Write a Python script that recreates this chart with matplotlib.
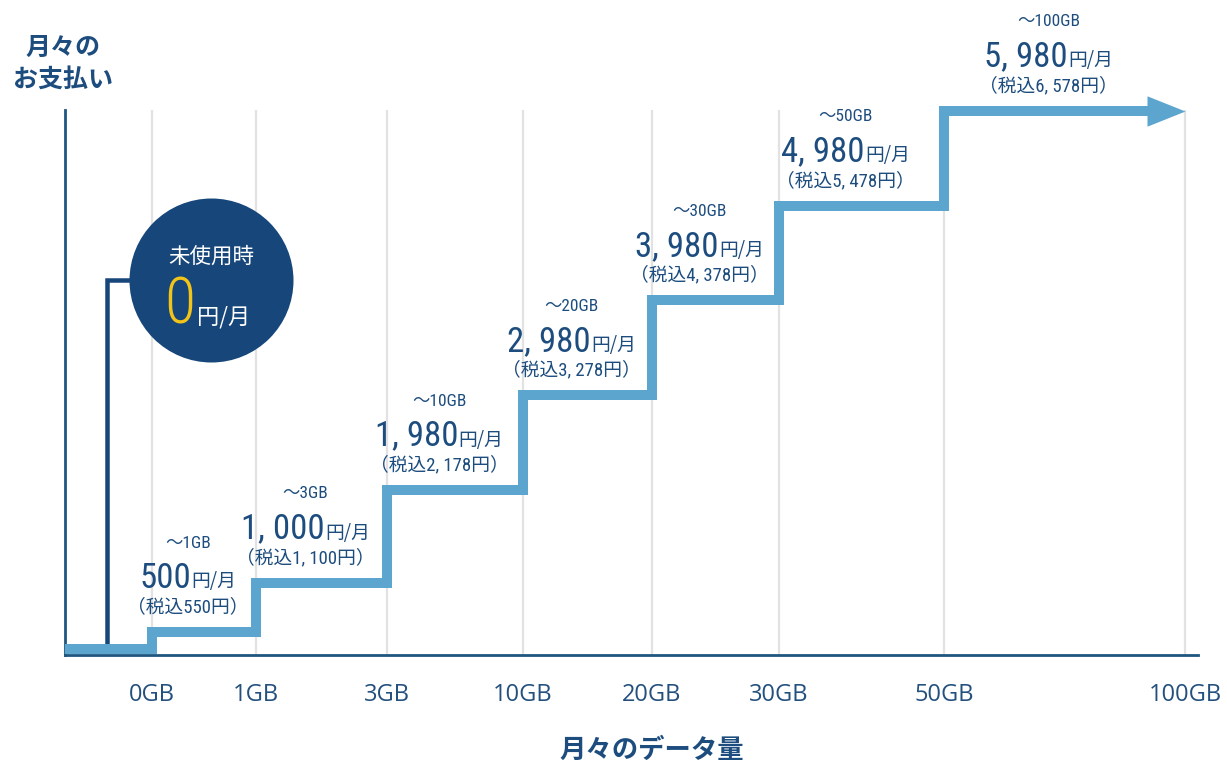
import numpy as np
import matplotlib
matplotlib.use("Agg")
import matplotlib.pyplot as plt
from matplotlib.offsetbox import TextArea, HPacker, AnnotationBbox

# ---------------- data ----------------
tick_labels = ["0GB", "1GB", "3GB", "10GB", "20GB", "30GB", "50GB", "100GB"]
plan_limits = ["～1GB", "～3GB", "～10GB", "～20GB", "～30GB", "～50GB", "～100GB"]
plan_prices = [500, 1000, 1980, 2980, 3980, 4980, 5980]
price_labels = ["500", "1, 000", "1, 980", "2, 980", "3, 980", "4, 980", "5, 980"]
tax_labels = ["（税込550円）", "（税込1, 100円）", "（税込2, 178円）", "（税込3, 278円）",
              "（税込4, 378円）", "（税込5, 478円）", "（税込6, 578円）"]
unused_price = 0
unused_label = "未使用時"
unit_label = "円/月"
y_title = ["月々の", "お支払い"]
x_title = "月々のデータ量"

# ---------------- layout / style ----------------
W, H, DPI = 12.27, 7.64, 100
TICK_POS = [87, 191, 322, 458, 587, 714, 879, 1120]   # visual x positions of the GB ticks
XLIM = (0, 1133)
NAVY = "#16467a"
TEXT = "#1d4d7e"
LIGHT = "#5ca5ce"
SPINE = "#1e5680"
GRID = "#e2e2e2"
NUM_FONT = ["Roboto Condensed", "Liberation Sans Narrow", "Roboto", "Noto Sans CJK JP"]
CJK = ["Noto Sans CJK JP", "DejaVu Sans"]
TICK_FONT = ["Open Sans", "Noto Sans", "DejaVu Sans"]
PX = 72.0 / DPI  # points per pixel

# visual y scale: compressed low range, linear above 1000 yen
_kp = [-100000.0, 0.0, 500.0, 1000.0, 100000.0]
_kv = [-3400.0, 0.0, 17.0, 66.0, 66.0 + 99000 * 0.0948]


def fwd(y):
    return np.interp(y, _kp, _kv)


def inv(v):
    return np.interp(v, _kv, _kp)


fig = plt.figure(figsize=(W, H), dpi=DPI)
ax = fig.add_axes([65 / 1227, 109 / 764, 1133 / 1227, 545 / 764])
ax.set_yscale("function", functions=(fwd, inv))
ax.set_xlim(*XLIM)
ax.set_ylim(inv(-6), inv(539))

for s in ["top", "right"]:
    ax.spines[s].set_visible(False)
for s in ["left", "bottom"]:
    ax.spines[s].set_color(SPINE)
    ax.spines[s].set_linewidth(2.0)
ax.set_yticks([])
ax.yaxis.set_minor_locator(matplotlib.ticker.NullLocator())
ax.set_xticks(TICK_POS)
ax.set_xticklabels(tick_labels, family=TICK_FONT, fontsize=17, color="#24507e")
ax.tick_params(axis="x", length=0, pad=20)
ax.grid(axis="x", color=GRID, lw=1.6, zorder=0)
ax.set_axisbelow(True)

# step line
xs = [XLIM[0]] + TICK_POS[:7] + [TICK_POS[7] - 34]
ys = [unused_price] + plan_prices + [plan_prices[-1]]
ax.plot(xs, ys, drawstyle="steps-post", lw=10 * PX, color=LIGHT,
        solid_joinstyle="miter", solid_capstyle="butt", clip_on=False, zorder=4)
# arrow head (tip at the last tick)
head = [(0, 0), (-1, 0.40), (-1, -0.40), (0, 0)]
ax.plot([TICK_POS[7]], [plan_prices[-1]], marker=head, markersize=2 * 38 * PX,
        color=LIGHT, markeredgewidth=0, clip_on=False, zorder=4)

# unused connector + circle
cx, cy = (211 - 65) / 1133, (655 - 280) / 545
lx = (107 - 65) / 1133
ax.plot([lx, lx, cx], [0.01, cy, cy], transform=ax.transAxes, color=NAVY,
        lw=4.5 * PX, solid_joinstyle="miter", clip_on=False, zorder=3)
ax.plot([cx], [cy], marker="o", markersize=164 * PX, color=NAVY, markeredgewidth=0,
        transform=ax.transAxes, clip_on=False, zorder=5)
ax.text(cx, cy + 23 / 545, unused_label, transform=ax.transAxes, ha="center", va="center",
        family=CJK, fontsize=15.5, color="white", zorder=6)
row0 = HPacker(children=[
    TextArea(f"{unused_price}", textprops=dict(family=NUM_FONT, fontsize=46, color="#f2c318",
                                               weight="light")),
    TextArea(unit_label, textprops=dict(family=CJK, fontsize=16, color="white"))],
    align="baseline", pad=0, sep=1)
ab0 = AnnotationBbox(row0, (cx - 4 / 1133, cy - 25 / 545), xycoords="axes fraction",
                     frameon=False, box_alignment=(0.5, 0.5), pad=0, annotation_clip=False,
                     zorder=6)
ax.add_artist(ab0)

# plan labels
for i, (lim, price, num, tax) in enumerate(zip(plan_limits, plan_prices, price_labels, tax_labels)):
    xm = (TICK_POS[i] + TICK_POS[i + 1]) / 2
    dx = -16 * PX
    ax.annotate(lim, (xm, price), xytext=(dx, 89 * PX), textcoords="offset points",
                ha="center", va="center", family=NUM_FONT, fontsize=12.5, color=TEXT,
                annotation_clip=False)
    row = HPacker(children=[
        TextArea(num, textprops=dict(family=NUM_FONT, fontsize=25, color=TEXT)),
        TextArea(unit_label, textprops=dict(family=CJK, fontsize=13.5, color=TEXT))],
        align="baseline", pad=0, sep=0)
    ab = AnnotationBbox(row, (xm, price), xybox=(dx, 54 * PX), boxcoords="offset points",
                        frameon=False, box_alignment=(0.5, 0.5), pad=0, annotation_clip=False)
    ax.add_artist(ab)
    ax.annotate(tax, (xm, price), xytext=(dx, 25 * PX), textcoords="offset points",
                ha="center", va="center", family=NUM_FONT, fontsize=13.5, color=TEXT,
                annotation_clip=False)

# titles
fig.text(63 / 1227, 1 - 48 / 764, y_title[0], ha="center", va="center", family=CJK,
         weight="bold", fontsize=18, color=TEXT)
fig.text(63 / 1227, 1 - 80 / 764, y_title[1], ha="center", va="center", family=CJK,
         weight="bold", fontsize=18, color=TEXT)
fig.text(652 / 1227, 1 - 750 / 764, x_title, ha="center", va="center", family=CJK,
         weight="bold", fontsize=19, color=TEXT)

fig.savefig("out.png", dpi=DPI)
